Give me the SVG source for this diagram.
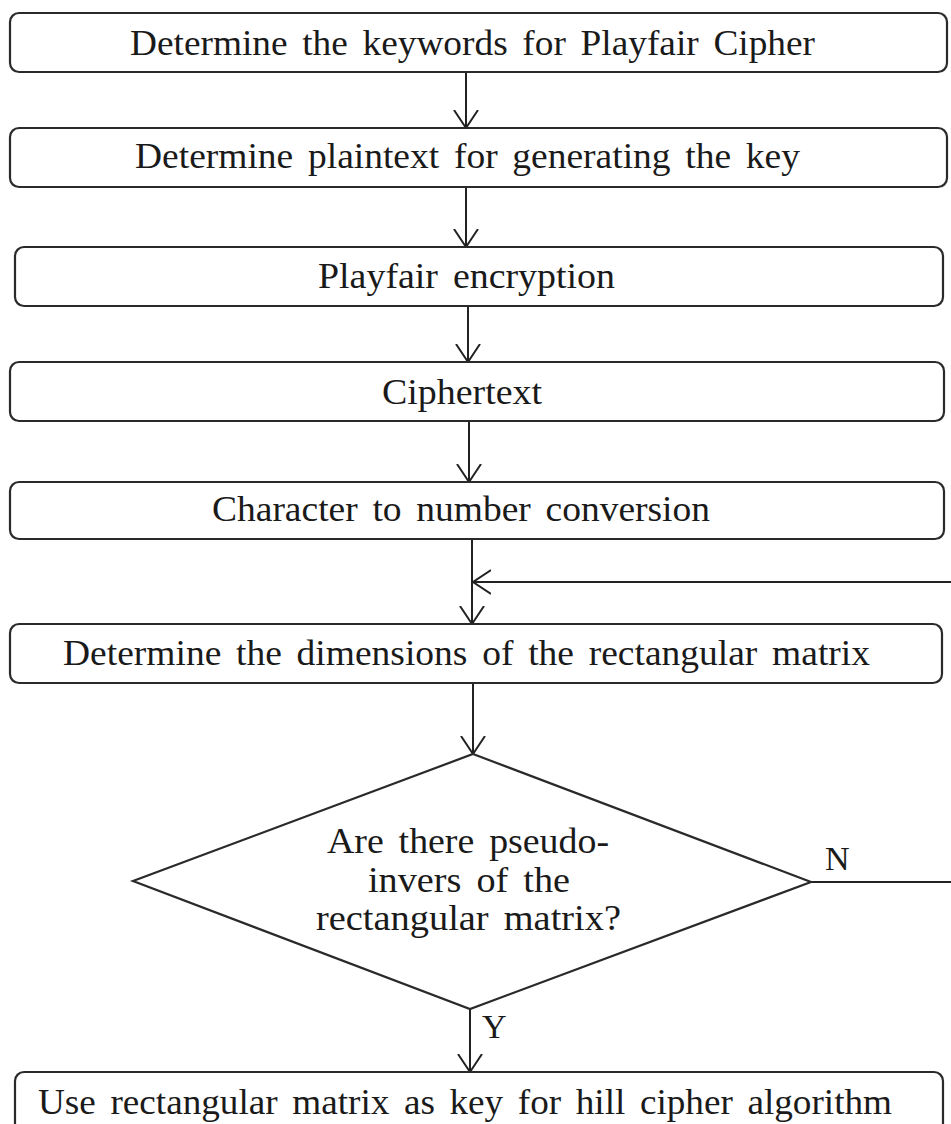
<svg xmlns="http://www.w3.org/2000/svg" width="951" height="1124" viewBox="0 0 951 1124">
  <style>
    .box { fill: #ffffff; stroke: #2a2a2a; stroke-width: 2.2; }
    .lbl { font-family: 'Liberation Serif', 'Times New Roman', Times, serif; font-size: 35px; word-spacing: 5px; fill: #1a1a1a; text-anchor: middle; }
    .yn { font-family: 'Liberation Serif', 'Times New Roman', Times, serif; font-size: 34px; fill: #1a1a1a; }
    .conn { fill: none; stroke: #222222; stroke-width: 2; }
  </style>
  <defs>
    <marker id="arr" viewBox="0 0 20 26" refX="18" refY="13" markerWidth="20" markerHeight="26" markerUnits="userSpaceOnUse" orient="auto">
      <path d="M0,1 L18,13 L0,25" fill="none" stroke="#222222" stroke-width="2"/>
    </marker>
  </defs>
  <rect width="951" height="1124" fill="#ffffff"/>

  <g id="connectors">
    <path class="conn" d="M466,72 V128" marker-end="url(#arr)"/>
    <path class="conn" d="M466,187 V247" marker-end="url(#arr)"/>
    <path class="conn" d="M468,306 V362" marker-end="url(#arr)"/>
    <path class="conn" d="M469,421 V482" marker-end="url(#arr)"/>
    <path class="conn" d="M472,539 V624" marker-end="url(#arr)"/>
    <path class="conn" d="M473,683 V754" marker-end="url(#arr)"/>
    <path class="conn" d="M470,1009 V1072" marker-end="url(#arr)"/>
    <path class="conn" d="M811,882 H965 V582 H473" marker-end="url(#arr)"/>
  </g>

  <g id="n1">
    <rect class="box" x="10" y="13" width="937" height="59" rx="9"/>
    <text class="lbl" x="472.5" y="55" textLength="685" lengthAdjust="spacingAndGlyphs">Determine the keywords for Playfair Cipher</text>
  </g>
  <g id="n2">
    <rect class="box" x="10" y="128" width="937" height="59" rx="9"/>
    <text class="lbl" x="467.5" y="168" textLength="665" lengthAdjust="spacingAndGlyphs">Determine plaintext for generating the key</text>
  </g>
  <g id="n3">
    <rect class="box" x="15" y="247" width="928" height="59" rx="9"/>
    <text class="lbl" x="466.5" y="288" textLength="297" lengthAdjust="spacingAndGlyphs">Playfair encryption</text>
  </g>
  <g id="n4">
    <rect class="box" x="10" y="362" width="934" height="59" rx="9"/>
    <text class="lbl" x="462" y="404" textLength="160" lengthAdjust="spacingAndGlyphs">Ciphertext</text>
  </g>
  <g id="n5">
    <rect class="box" x="10" y="482" width="934" height="57" rx="9"/>
    <text class="lbl" x="461" y="521" textLength="498" lengthAdjust="spacingAndGlyphs">Character to number conversion</text>
  </g>
  <g id="n6">
    <rect class="box" x="10" y="624" width="932" height="59" rx="9"/>
    <text class="lbl" x="466.5" y="665" textLength="807" lengthAdjust="spacingAndGlyphs">Determine the dimensions of the rectangular matrix</text>
  </g>
  <g id="n7">
    <polygon class="box" points="473,754 811,882 470,1009 133,881"/>
    <text class="lbl" x="468" y="853" textLength="282" lengthAdjust="spacingAndGlyphs">Are there pseudo-</text>
    <text class="lbl" x="469" y="892" textLength="202" lengthAdjust="spacingAndGlyphs">invers of the</text>
    <text class="lbl" x="468.5" y="930" textLength="305" lengthAdjust="spacingAndGlyphs">rectangular matrix?</text>
  </g>
  <g id="n8">
    <rect class="box" x="15" y="1072" width="928" height="70" rx="9"/>
    <text class="lbl" x="465" y="1114" textLength="854" lengthAdjust="spacingAndGlyphs">Use rectangular matrix as key for hill cipher algorithm</text>
  </g>
  <g id="labels">
    <text class="yn" x="825" y="870">N</text>
    <text class="yn" x="482" y="1038">Y</text>
  </g>
</svg>
